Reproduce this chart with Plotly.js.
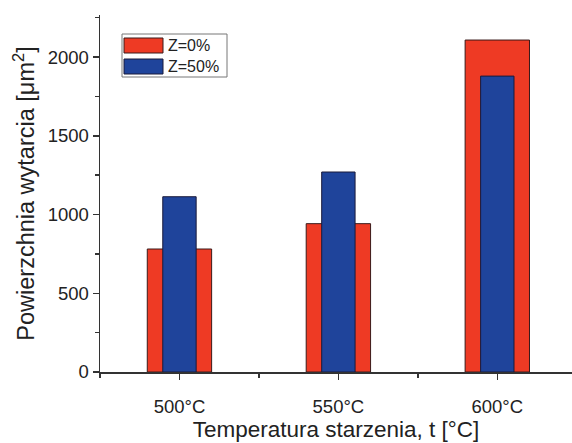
<!DOCTYPE html>
<html>
<head>
<meta charset="utf-8">
<script src="https://cdn.plot.ly/plotly-3.0.1.min.js"></script>
<style>html,body{margin:0;padding:0;background:#fff;}#chart{width:572px;height:443px;}</style>
</head>
<body>
<div id="chart"></div>
<script>
var categories = ["500°C", "550°C", "600°C"];
var positions = [0, 1, 2];
var seriesNames = ["Z=0%", "Z=50%"];
var valuesZ0 = [781, 942, 2108];
var valuesZ50 = [1113, 1270, 1879];
var yTickVals = [0, 500, 1000, 1500, 2000];

var red = "#ee3a24", blue = "#1f449b";
var traces = [
  {type: "bar", x: positions, y: valuesZ0, name: seriesNames[0], width: 0.405,
   marker: {color: red, line: {color: "#3a1a1a", width: 1}}, showlegend: false},
  {type: "bar", x: positions, y: valuesZ50, name: seriesNames[1], width: 0.21,
   marker: {color: blue, line: {color: "#1a1a3a", width: 1}}, showlegend: false}
];
var font = {family: "Liberation Sans, Arial, sans-serif", color: "#222"};
var layout = {
  width: 572, height: 443,
  margin: {l: 100, r: 0, t: 15, b: 71, pad: 0},
  paper_bgcolor: "#fff", plot_bgcolor: "#fff",
  barmode: "overlay",
  font: font,
  xaxis: {
    range: [-0.5, 2.47], tickvals: positions, ticktext: categories,
    showgrid: false, zeroline: false, showline: true, linecolor: "#333", linewidth: 1.5,
    ticks: "outside", ticklen: 6, tickwidth: 1.5, tickcolor: "#333",
    tickfont: {size: 18.5, family: font.family, color: "#222"},
    ticklabelstandoff: 11,
    minor: {tickvals: [-0.5, 0.5, 1.5, 2.5], ticks: "outside", ticklen: 4, tickwidth: 1.5, tickcolor: "#333"},
    title: {text: "Temperatura starzenia, t [°C]", font: {size: 22.5, family: font.family, color: "#222"}, standoff: 4}
  },
  yaxis: {
    range: [0, 2267], tickvals: yTickVals,
    showgrid: false, zeroline: false, showline: true, linecolor: "#333", linewidth: 1.5,
    ticks: "outside", ticklen: 6, tickwidth: 1.5, tickcolor: "#333",
    tickfont: {size: 18.5, family: font.family, color: "#222"},
    minor: {dtick: 250, tick0: 0, ticks: "outside", ticklen: 4, tickwidth: 1.5, tickcolor: "#333"},
    title: {text: "Powierzchnia wytarcia [μm<sup>2</sup>]", font: {size: 23.5, family: font.family, color: "#222"}, standoff: 6}
  },
  shapes: [
    {type: "rect", xref: "paper", yref: "paper", x0: 22/472, x1: 127/472, y0: (372-77)/357, y1: (372-34)/357,
     line: {color: "#777", width: 1}, fillcolor: "rgba(0,0,0,0)"},
    {type: "rect", xref: "paper", yref: "paper", x0: 24/472, x1: 63/472, y0: (372-53)/357, y1: (372-38)/357,
     line: {color: "#3a1a1a", width: 1}, fillcolor: red},
    {type: "rect", xref: "paper", yref: "paper", x0: 24/472, x1: 63/472, y0: (372-74)/357, y1: (372-59)/357,
     line: {color: "#1a1a3a", width: 1}, fillcolor: blue}
  ],
  annotations: [
    {xref: "paper", yref: "paper", x: 66/472, y: (372-45.5)/357, xanchor: "left", yanchor: "middle",
     text: seriesNames[0], showarrow: false, font: {size: 16, family: font.family, color: "#222"}},
    {xref: "paper", yref: "paper", x: 66/472, y: (372-66.5)/357, xanchor: "left", yanchor: "middle",
     text: seriesNames[1], showarrow: false, font: {size: 16, family: font.family, color: "#222"}}
  ]
};
Plotly.newPlot("chart", traces, layout, {displayModeBar: false, staticPlot: true});
</script>
</body>
</html>
